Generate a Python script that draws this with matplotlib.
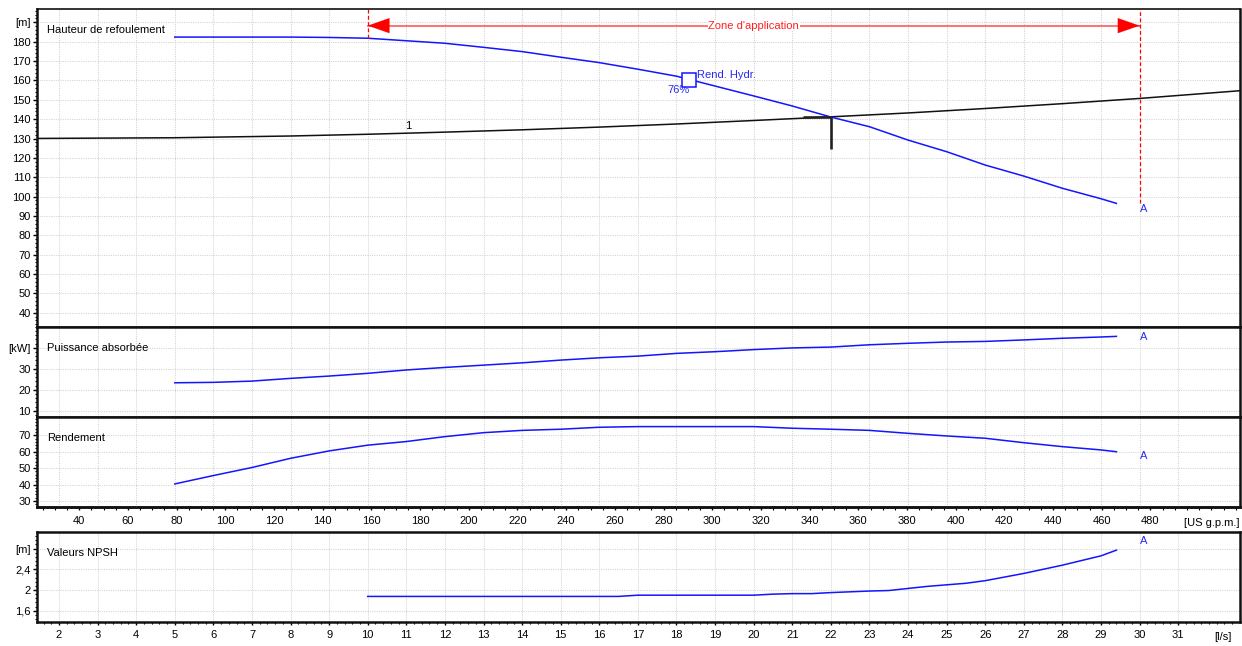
import numpy as np
import matplotlib
matplotlib.use("Agg")
import matplotlib.pyplot as plt
from matplotlib.ticker import MultipleLocator

plt.rcParams['font.family'] = ['Liberation Sans', 'DejaVu Sans']

GPM_PER_LS = 15.8503

# ---- pump curves (flow in l/s) ----
Q = [5, 6, 7, 8, 9, 10, 11, 12, 13, 14, 15, 16, 17, 18, 19, 20,
     21, 22, 23, 24, 25, 26, 27, 28, 29, 29.4]
HEAD = [182.4, 182.4, 182.4, 182.4, 182.2, 181.8, 180.5, 179.2, 177.1, 174.9,
        172.0, 169.2, 165.8, 162.2, 157.1, 152.0, 146.8, 141.1, 136.1, 129.2,
        123.2, 116.3, 110.6, 104.3, 98.9, 96.5]
POWER = [23.3, 23.5, 24.1, 25.4, 26.5, 27.8, 29.4, 30.6, 31.7, 32.8,
         34.1, 35.2, 36.0, 37.3, 38.1, 39.1, 39.9, 40.3, 41.4, 42.1,
         42.7, 43.0, 43.7, 44.5, 45.1, 45.4]
EFF = [40.4, 45.5, 50.4, 56.0, 60.5, 64.0, 66.2, 69.2, 71.6, 73.0,
       73.7, 74.9, 75.3, 75.3, 75.3, 75.3, 74.3, 73.7, 73.0, 71.2,
       69.6, 68.2, 65.5, 63.1, 61.1, 60.0]
Q_NPSH = [10, 12, 14, 16, 16.5, 17, 18, 19, 20, 20.5, 21, 21.5, 22, 23, 23.5,
          24, 24.5, 25, 25.5, 26, 27, 28, 29, 29.4]
NPSH = [1.876, 1.876, 1.876, 1.876, 1.876, 1.90, 1.90, 1.90, 1.90, 1.92, 1.93, 1.93,
        1.95, 1.98, 1.99, 2.03, 2.07, 2.10, 2.13, 2.18, 2.32, 2.48, 2.66, 2.77]

# system curve "1"
Q_SYS = [1.0, 5, 8, 10, 12, 14, 16, 18, 20, 22, 24, 26, 28, 30, 33]
H_SYS = [130.0, 130.4, 131.3, 132.2, 133.3, 134.5, 135.9, 137.5, 139.3,
         141.2, 143.2, 145.5, 148.0, 150.7, 155.3]
SYS_LABEL = "1"

# duty point and best efficiency point
Q_DUTY, H_DUTY, H_DUTY_LOW = 22.0, 141.1, 124.4
Q_BEP, H_BEP, BEP_TEXT = 18.33, 160.0, "76%"

# application zone (l/s)
ZONE = (10, 30)

# ---- axes scales ----
XLIM = (1.417, 32.59)
LS_TICKS = list(range(2, 32))
GPM_TICKS = list(range(40, 481, 20))
HEAD_TICKS = list(range(40, 191, 10))
HEAD_LABELS = [str(v) for v in HEAD_TICKS[:-1]] + ["[m]"]
POWER_TICKS = [10, 20, 30, 40]
POWER_LABELS = ["10", "20", "30", "[kW]"]
EFF_TICKS = [30, 40, 50, 60, 70]
EFF_LABELS = ["30", "40", "50", "60", "70"]
NPSH_TICKS = [1.6, 2.0, 2.4, 2.8]
NPSH_LABELS = ["1,6", "2", "2,4", "[m]"]

BLUE = "#1414ff"
TXT_BLUE = "#2a2aee"
GRID = "#d2d2d2"
FS = 8

fig = plt.figure(figsize=(12.42, 6.46), dpi=100)
L, W = 0.0294, 0.9686
ax1 = fig.add_axes([L, 0.49458, W, 0.49149])
ax2 = fig.add_axes([L, 0.35402, W, 0.14056])
ax3 = fig.add_axes([L, 0.21517, W, 0.13885])
ax4 = fig.add_axes([L, 0.03669, W, 0.13932])


def style(ax, yticks, ylabels, ylim, yminor, title, title_y, xlabels=False):
    ax.set_xlim(*XLIM)
    ax.set_ylim(*ylim)
    ax.set_xticks(LS_TICKS)
    ax.set_yticks(yticks)
    ax.set_yticklabels(ylabels)
    ax.yaxis.set_minor_locator(MultipleLocator(yminor))
    ax.tick_params(axis='y', which='major', direction='out', length=2.8,
                   width=1.0, labelsize=FS, pad=1.2)
    ax.tick_params(axis='y', which='minor', direction='out', length=1.6, width=0.8)
    if xlabels:
        ax.xaxis.set_minor_locator(MultipleLocator(0.2))
        ax.tick_params(axis='x', which='major', direction='out', length=2.2,
                       width=1.0, labelsize=FS, pad=3.2)
        ax.tick_params(axis='x', which='minor', direction='out', length=1.6, width=0.8)
    else:
        ax.tick_params(axis='x', which='both', length=0, labelbottom=False)
    ax.grid(True, which='major', color=GRID, linestyle=(0, (1, 1.2)), linewidth=0.75)
    ax.set_axisbelow(True)
    for s in ax.spines.values():
        s.set_linewidth(1.8)
        s.set_color("#111111")
    ax.text(0.0087, title_y, title, transform=ax.transAxes, fontsize=FS,
            ha='left', va='center')


style(ax1, HEAD_TICKS, HEAD_LABELS, (32.9, 196.9), 2, "Hauteur de refoulement", 0.934)
style(ax2, POWER_TICKS, POWER_LABELS, (6.86, 50.1), 2, "Puissance absorbée", 0.763)
style(ax3, EFF_TICKS, EFF_LABELS, (26.35, 80.96), 2, "Rendement", 0.769)
style(ax4, NPSH_TICKS, NPSH_LABELS, (1.376, 3.115), 0.08, "Valeurs NPSH", 0.77,
      xlabels=True)
ax1.spines['top'].set_linewidth(1.2)

# ---- head panel ----
ax1.plot(Q_SYS, H_SYS, color="#111111", lw=1.1, zorder=3)
ax1.text(11.05, 136.6, SYS_LABEL, fontsize=FS, ha='center', va='center')
ax1.plot(Q, HEAD, color=BLUE, lw=1.1, zorder=4)

# duty point
ax1.plot([Q_DUTY - 0.73, Q_DUTY], [H_DUTY, H_DUTY], color="#222222", lw=1.9,
         solid_capstyle='butt', zorder=5)
ax1.plot([Q_DUTY, Q_DUTY], [H_DUTY, H_DUTY_LOW], color="#222222", lw=1.9,
         solid_capstyle='butt', zorder=5)

# best efficiency marker
ax1.plot([Q_BEP], [H_BEP], marker='s', ms=10, mfc='white', mec=BLUE, mew=1.1,
         zorder=6)
ax1.annotate("Rend. Hydr.", (Q_BEP, H_BEP), xytext=(5.4, 3.8),
             textcoords='offset points', fontsize=FS, color=TXT_BLUE,
             ha='left', va='center')
ax1.annotate(BEP_TEXT, (Q_BEP, H_BEP), xytext=(-8.0, -7.0),
             textcoords='offset points', fontsize=FS, color=TXT_BLUE,
             ha='center', va='center')

# application zone
ytop = ax1.get_ylim()[1]
y_arrow = 188.3
ax1.plot(ZONE, [y_arrow, y_arrow], color="#ff5a5a", lw=1.2, zorder=5)
for xz, dx in [(ZONE[0], 16), (ZONE[1], -16)]:
    ax1.annotate("", xy=(xz, y_arrow), xytext=(dx, 0), textcoords='offset points',
                 arrowprops=dict(arrowstyle="-|>,head_length=1.55,head_width=0.54",
                                 mutation_scale=10, color="#ff0000", lw=0.1,
                                 shrinkA=0, shrinkB=0), zorder=6)
ax1.vlines(ZONE[0], np.interp(ZONE[0], Q, HEAD), ytop, colors="#ff0000",
           linestyles=(0, (3, 2)), lw=0.9, zorder=5)
ax1.vlines(ZONE[1], np.interp(ZONE[1], Q, HEAD), ytop, colors="#ff0000",
           linestyles=(0, (3, 2)), lw=0.9, zorder=5)
ax1.text(np.mean(ZONE), y_arrow, "Zone d'application", color="#ff2020",
         fontsize=FS, ha='center', va='center', zorder=7,
         bbox=dict(facecolor='white', edgecolor='none', pad=0.6))
ax1.text(30.1, 93.4, "A", color=TXT_BLUE, fontsize=FS, ha='center', va='center')

# ---- power panel ----
ax2.plot(Q, POWER, color=BLUE, lw=1.1)
ax2.text(30.1, 45.1, "A", color=TXT_BLUE, fontsize=FS, ha='center', va='center')

# ---- efficiency panel ----
ax3.plot(Q, EFF, color=BLUE, lw=1.1)
ax3.text(30.1, 57.4, "A", color=TXT_BLUE, fontsize=FS, ha='center', va='center')
sec = ax3.secondary_xaxis('bottom', functions=(lambda q: np.asarray(q) * GPM_PER_LS,
                                               lambda g: np.asarray(g) / GPM_PER_LS))
sec.set_xticks(GPM_TICKS)
sec.xaxis.set_minor_locator(MultipleLocator(5))
sec.tick_params(axis='x', which='major', direction='out', length=2.2, width=1.0,
                labelsize=FS, pad=4.2)
sec.tick_params(axis='x', which='minor', direction='out', length=2.2, width=0.8)
sec.spines['bottom'].set_linewidth(1.8)
sec.spines['bottom'].set_color("#111111")
ax3.text(1.0, -0.175, "[US g.p.m.]", transform=ax3.transAxes, fontsize=FS,
         ha='right', va='center')

# ---- NPSH panel ----
ax4.plot(Q_NPSH, NPSH, color=BLUE, lw=1.1)
ax4.text(30.1, 2.947, "A", color=TXT_BLUE, fontsize=FS, ha='center', va='center')
ax4.text(32.15, -0.16, "[l/s]", transform=ax4.get_xaxis_transform(), fontsize=FS,
         ha='center', va='center')

fig.savefig("out.png", dpi=100)
